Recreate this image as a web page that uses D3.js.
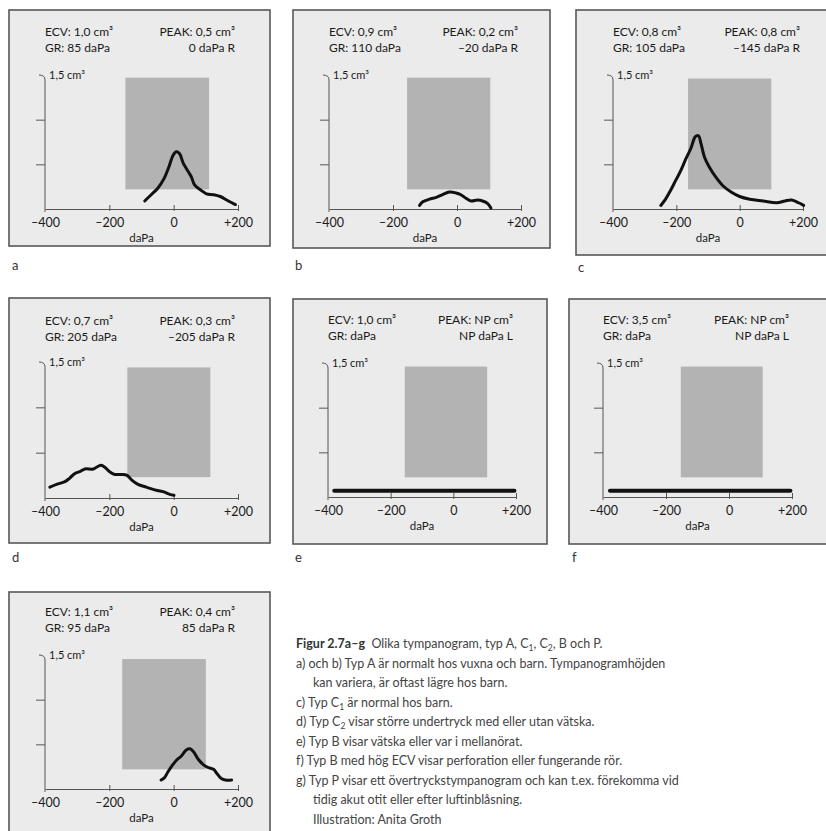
<!DOCTYPE html>
<html>
<head>
<meta charset="utf-8">
<script src="https://cdn.jsdelivr.net/npm/d3@7"></script>
<style>
  body { margin: 0; background: #fff; }
  svg text { font-family: Lato, "Open Sans", sans-serif; }
</style>
</head>
<body>
<script>
// values
var panelIds = ["a", "b", "c", "d", "e", "f", "g"];
var ecv = ["1,0", "0,9", "0,8", "0,7", "1,0", "3,5", "1,1"];
var gr = ["85", "110", "105", "205", "", "", "95"];
var peakCm3 = ["0,5", "0,2", "0,8", "0,3", "NP", "NP", "0,4"];
var peakDaPa = ["0", "–20", "–145", "–205", "NP", "NP", "85"];
var ear = ["R", "R", "R", "R", "L", "L", "R"];

var xTicks = [-400, -200, 0, 200];
var yTicks = [0.5, 1.0, 1.5];

// normal range box per panel: [daPa from, daPa to, cm3 from, cm3 to]
var normalBox = [
	[-150, 110, 0.22, 1.47],
	[-156, 104, 0.22, 1.47],
	[-163, 100, 0.22, 1.46],
	[-144, 114, 0.23, 1.44],
	[-155, 108, 0.22, 1.46],
	[-153, 107, 0.22, 1.46],
	[-160, 100, 0.22, 1.455]
];

// tympanogram curves [daPa, cm3]
var curveA = [[-90, 0.09], [-70, 0.16], [-50, 0.23], [-30, 0.34], [-15, 0.47], [-2, 0.60], [8, 0.64], [18, 0.62],
	[30, 0.51], [45, 0.42], [55, 0.36], [65, 0.27], [85, 0.21], [102, 0.17], [125, 0.16], [145, 0.14], [170, 0.09], [192, 0.05]];
var curveB = [[-117, 0.04], [-107, 0.08], [-86, 0.11], [-65, 0.13], [-45, 0.16], [-24, 0.19], [-3, 0.18], [12, 0.16],
	[28, 0.12], [44, 0.09], [64, 0.10], [80, 0.09], [96, 0.06], [106, 0.01]];
var curveC = [[-249, 0.04], [-234, 0.11], [-218, 0.21], [-202, 0.32], [-186, 0.43], [-170, 0.56], [-154, 0.68], [-140, 0.81],
	[-130, 0.82], [-122, 0.73], [-111, 0.58], [-96, 0.47], [-74, 0.35], [-53, 0.26], [-27, 0.19], [0, 0.14], [32, 0.11],
	[74, 0.09], [117, 0.07], [143, 0.09], [164, 0.10], [186, 0.07], [202, 0.04]];
var curveD = [[-385, 0.12], [-364, 0.15], [-338, 0.18], [-323, 0.22], [-307, 0.27], [-292, 0.29], [-276, 0.32], [-250, 0.32],
	[-235, 0.35], [-226, 0.36], [-214, 0.34], [-199, 0.29], [-183, 0.26], [-162, 0.26], [-145, 0.25], [-131, 0.20],
	[-111, 0.15], [-85, 0.12], [-59, 0.09], [-33, 0.07], [-12, 0.04], [1, 0.03]];
var curveE = [[-380, 0.07], [195, 0.07]];
var curveF = [[-378, 0.07], [195, 0.07]];
var curveG = [[-39, 0.10], [-28, 0.13], [-18, 0.19], [-7, 0.25], [8, 0.32], [24, 0.37], [40, 0.44], [51, 0.45], [61, 0.42],
	[77, 0.33], [93, 0.27], [108, 0.24], [124, 0.22], [135, 0.17], [147, 0.12], [161, 0.10], [180, 0.10]];
var curves = [curveA, curveB, curveC, curveD, curveE, curveF, curveG];

var captionTitle = "Figur 2.7a–g";
var captionLines = [
	["Olika tympanogram, typ A, C", {sub: "1"}, ", C", {sub: "2"}, ", B och P."],
	["a) och b) Typ A är normalt hos vuxna och barn. Tympanogramhöjden"],
	["kan variera, är oftast lägre hos barn."],
	["c) Typ C", {sub: "1"}, " är normal hos barn."],
	["d) Typ C", {sub: "2"}, " visar större undertryck med eller utan vätska."],
	["e) Typ B visar vätska eller var i mellanörat."],
	["f) Typ B med hög ECV visar perforation eller fungerande rör."],
	["g) Typ P visar ett övertryckstympanogram och kan t.ex. förekomma vid"],
	["tidig akut otit eller efter luftinblåsning."],
	["Illustration: Anita Groth"]
];
var captionIndent = [false, false, true, false, false, false, false, false, true, true];

// layout (pixels)
var layout = [
	{box: [9, 10, 261, 236], ox: 45, oy: 209, xw: 193, yh: 134, lab: [12, 270]},
	{box: [293, 10, 257, 238], ox: 329, oy: 209, xw: 192, yh: 134, lab: [295, 270]},
	{box: [576, 10, 262, 245], ox: 613, oy: 209, xw: 190, yh: 134, lab: [578, 272]},
	{box: [9, 298, 261, 245], ox: 45, oy: 498, xw: 193, yh: 136, lab: [12, 562]},
	{box: [293, 299, 254, 245], ox: 328, oy: 497, xw: 188, yh: 134, lab: [295, 562]},
	{box: [569, 299, 262, 245], ox: 603, oy: 497, xw: 189, yh: 134, lab: [572, 562]},
	{box: [9, 592, 261, 260], ox: 45, oy: 789, xw: 193, yh: 134, lab: null}
];

var width = 826, height = 831;

var svg = d3.select("body").append("svg")
	.attr("width", width)
	.attr("height", height);

function fmtX(d) {
	if (d > 0) return "+" + d;
	if (d < 0) return "–" + (-d);
	return "0";
}

panelIds.forEach(function (id, i) {
	var L = layout[i];

	svg.append("rect")
		.attr("x", L.box[0])
		.attr("y", L.box[1])
		.attr("width", L.box[2])
		.attr("height", L.box[3])
		.attr("fill", "#ebebeb")
		.attr("stroke", "#585858")
		.attr("stroke-width", 1.6);

	if (L.lab) {
		svg.append("text")
			.attr("x", L.lab[0])
			.attr("y", L.lab[1])
			.attr("font-size", 13)
			.attr("fill", "#333")
			.text(id);
	}

	var x = d3.scaleLinear().domain([-400, 200]).range([L.ox, L.ox + L.xw]);
	var y = d3.scaleLinear().domain([0, 1.5]).range([L.oy, L.oy - L.yh]);

	var g = svg.append("g");

	// header
	var hdr = g.append("g")
		.attr("font-size", 12)
		.attr("fill", "#1a1a1a")
		.style("white-space", "pre");
	hdr.append("text").attr("x", L.ox).attr("y", L.oy - 173).text("ECV: " + ecv[i] + " cm³");
	hdr.append("text").attr("x", L.ox).attr("y", L.oy - 157)
		.text(gr[i] ? "GR: " + gr[i] + " daPa" : "GR:      daPa");
	hdr.append("text").attr("x", L.ox + L.xw - 3).attr("y", L.oy - 173)
		.attr("text-anchor", "end").text("PEAK: " + peakCm3[i] + " cm³");
	hdr.append("text").attr("x", L.ox + L.xw - 3).attr("y", L.oy - 157)
		.attr("text-anchor", "end").text(peakDaPa[i] + " daPa " + ear[i]);

	// normal range box
	var nb = normalBox[i];
	g.append("rect")
		.attr("x", x(nb[0]))
		.attr("y", y(nb[3]))
		.attr("width", x(nb[1]) - x(nb[0]))
		.attr("height", y(nb[2]) - y(nb[3]))
		.attr("fill", "#b3b3b3");

	// x axis
	var xa = g.append("g")
		.attr("transform", "translate(0," + L.oy + ")")
		.call(d3.axisBottom(x).tickValues(xTicks).tickSizeInner(-4).tickSizeOuter(0)
			.tickPadding(9).tickFormat(fmtX));
	xa.select(".domain").attr("stroke", "#555");
	xa.selectAll(".tick line").attr("stroke", "#555").attr("y2", -4).attr("y1", 2);
	xa.selectAll(".tick text")
		.attr("font-size", 12.5)
		.attr("fill", "#1a1a1a")
		.attr("font-family", "Lato, sans-serif");
	xa.select(".tick:first-of-type line").remove();

	g.append("text")
		.attr("x", x(-100))
		.attr("y", L.oy + 33)
		.attr("text-anchor", "middle")
		.attr("font-size", 11.5)
		.attr("fill", "#1a1a1a")
		.text("daPa");

	// y axis
	var ya = g.append("g")
		.attr("transform", "translate(" + L.ox + ",0)")
		.call(d3.axisLeft(y).tickValues(yTicks.slice(0, 2)).tickSize(9).tickFormat(""));
	ya.select(".domain").remove();
	ya.selectAll(".tick line").attr("stroke", "#555");

	var top = y(1.5);
	g.append("path")
		.attr("d", "M" + (L.ox - 6) + "," + top + "Q" + L.ox + "," + top + " " + L.ox + "," + (top + 5) +
			"L" + L.ox + "," + (L.oy + 3))
		.attr("fill", "none")
		.attr("stroke", "#555");

	g.append("text")
		.attr("x", L.ox + 4)
		.attr("y", top + 4)
		.attr("font-size", 11)
		.attr("fill", "#1a1a1a")
		.text("1,5 cm³");

	// curve
	var line = d3.line()
		.x(function (d) { return x(d[0]); })
		.y(function (d) { return y(d[1]); })
		.curve(curves[i].length > 2 ? d3.curveCatmullRom : d3.curveLinear);

	g.append("path")
		.datum(curves[i])
		.attr("d", line)
		.attr("fill", "none")
		.attr("stroke", "#111")
		.attr("stroke-width", curves[i].length > 2 ? 3 : 4)
		.attr("stroke-linejoin", "round")
		.attr("stroke-linecap", "round");
});

// caption
var cap = svg.append("g")
	.attr("font-size", 12.5)
	.attr("fill", "#444");

captionLines.forEach(function (parts, i) {
	var t = cap.append("text")
		.attr("x", captionIndent[i] ? 313 : 296)
		.attr("y", 648 + i * 19.5);
	if (i === 0) {
		t.append("tspan").attr("font-weight", "bold").attr("fill", "#333").text(captionTitle);
		t.append("tspan").text("  ").style("white-space", "pre");
	}
	parts.forEach(function (p) {
		if (typeof p === "string") {
			t.append("tspan").text(p);
		} else {
			t.append("tspan").attr("font-size", 8.5).attr("baseline-shift", -3).text(p.sub);
		}
	});
});
</script>
</body>
</html>
